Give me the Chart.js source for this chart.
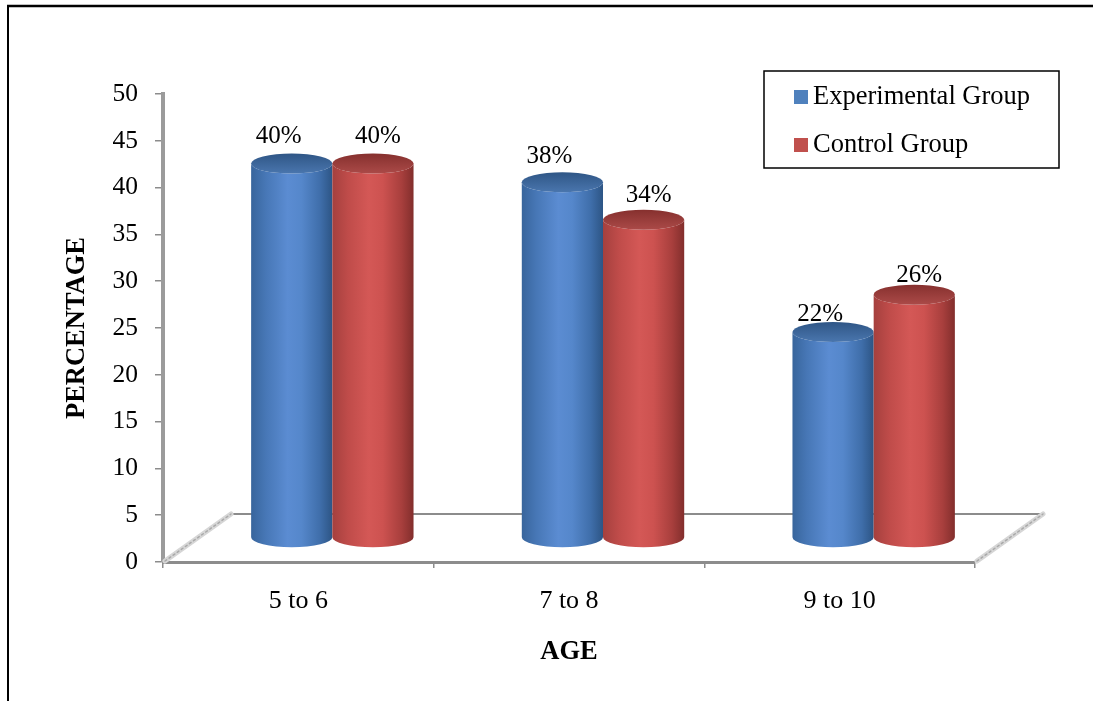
<!DOCTYPE html>
<html>
<head>
<meta charset="utf-8">
<title>Age distribution by group</title>
<script src="https://cdn.jsdelivr.net/npm/chart.js@4.4.1/dist/chart.umd.min.js"></script>
<style>
  html, body { margin: 0; padding: 0; background: #fff; overflow: hidden; }
  canvas { display: block; }
</style>
</head>
<body>
<canvas id="chart" width="1093" height="701"></canvas>
<script>
// Percentage of each group in every age band
const categories = ['5 to 6', '7 to 8', '9 to 10'];
const experimentalGroup = [40, 38, 22];
const controlGroup = [40, 34, 26];
const seriesNames = ['Experimental Group', 'Control Group'];
const yMax = 50;
const yStep = 5;

const SERIF = '"Liberation Serif", "Times New Roman", serif';
// Depth of the pseudo-3D floor (front edge -> back edge)
const DEPTH = { dx: 68, dy: -48 };
const CAP_RY = 10;

const palettes = [
  {
    body: [[0, '#38659c'], [0.18, '#4777b6'], [0.45, '#5b8cd2'], [0.62, '#5587cb'], [0.85, '#3f6eaa'], [1, '#2d5585']],
    top: ['#2f5686', '#4a76ae'],
    key: '#4f81bd'
  },
  {
    body: [[0, '#a5403e'], [0.2, '#c04c4a'], [0.45, '#d45856'], [0.62, '#cd5250'], [0.85, '#a83f3d'], [1, '#822e2c']],
    top: ['#86302e', '#ab4a48'],
    key: '#c0504d'
  }
];

// White page with the frame lines around the figure
const framePlugin = {
  id: 'frame',
  beforeDraw(chart) {
    const ctx = chart.ctx;
    ctx.save();
    ctx.fillStyle = '#fff';
    ctx.fillRect(0, 0, chart.width, chart.height);
    ctx.strokeStyle = '#000';
    ctx.lineWidth = 2.5;
    ctx.beginPath();
    ctx.moveTo(7, 6);
    ctx.lineTo(chart.width, 6);
    ctx.stroke();
    ctx.lineWidth = 2;
    ctx.beginPath();
    ctx.moveTo(8, 5);
    ctx.lineTo(8, chart.height);
    ctx.stroke();
    ctx.restore();
  }
};

// Floor of the 3D plot: back edge and the two receding side edges
const floorPlugin = {
  id: 'floor',
  beforeDatasetsDraw(chart) {
    const { left, right, bottom } = chart.chartArea;
    const ctx = chart.ctx;
    ctx.save();
    ctx.strokeStyle = '#8c8c8c';
    ctx.lineWidth = 2;
    ctx.beginPath();
    ctx.moveTo(left + DEPTH.dx, bottom + DEPTH.dy);
    ctx.lineTo(right + DEPTH.dx, bottom + DEPTH.dy);
    ctx.stroke();
    [left, right].forEach(x0 => {
      ctx.lineCap = 'round';
      ctx.strokeStyle = '#d6d6d6';
      ctx.lineWidth = 5;
      ctx.setLineDash([]);
      ctx.beginPath();
      ctx.moveTo(x0 + 2, bottom - 1);
      ctx.lineTo(x0 + DEPTH.dx, bottom + DEPTH.dy);
      ctx.stroke();
      ctx.strokeStyle = '#a9a9a9';
      ctx.lineWidth = 1.5;
      ctx.setLineDash([2, 3]);
      ctx.beginPath();
      ctx.moveTo(x0 + 2, bottom - 1);
      ctx.lineTo(x0 + DEPTH.dx, bottom + DEPTH.dy);
      ctx.stroke();
    });
    ctx.restore();
  }
};

// Draws each bar element as a shaded cylinder standing mid-depth on the floor
const cylinderPlugin = {
  id: 'cylinders',
  afterDatasetsDraw(chart) {
    const ctx = chart.ctx;
    const hx = DEPTH.dx / 2, hy = DEPTH.dy / 2, ry = CAP_RY;
    chart.data.datasets.forEach((ds, di) => {
      const meta = chart.getDatasetMeta(di);
      const pal = palettes[di];
      meta.data.forEach((bar) => {
        const { x, y, base, width } = bar.getProps(['x', 'y', 'base', 'width'], true);
        const cx = x + hx, rx = width / 2, top = y + hy, bot = base + hy;
        ctx.save();
        const g = ctx.createLinearGradient(cx - rx, 0, cx + rx, 0);
        pal.body.forEach(([o, c]) => g.addColorStop(o, c));
        ctx.beginPath();
        ctx.moveTo(cx - rx, top);
        ctx.lineTo(cx - rx, bot);
        ctx.ellipse(cx, bot, rx, ry, 0, Math.PI, 0, true);
        ctx.lineTo(cx + rx, top);
        ctx.ellipse(cx, top, rx, ry, 0, 0, Math.PI, false);
        ctx.closePath();
        ctx.fillStyle = g;
        ctx.fill();
        const tg = ctx.createLinearGradient(0, top - ry, 0, top + ry);
        tg.addColorStop(0, pal.top[0]);
        tg.addColorStop(1, pal.top[1]);
        ctx.beginPath();
        ctx.ellipse(cx, top, rx, ry, 0, 0, Math.PI * 2);
        ctx.fillStyle = tg;
        ctx.fill();
        ctx.restore();
      });
    });
  }
};

// Percentage labels above each cylinder; taller cylinders get a slightly larger gap
const valueLabelPlugin = {
  id: 'valueLabels',
  afterDatasetsDraw(chart) {
    const ctx = chart.ctx;
    const shift = [-13, 5];
    ctx.save();
    ctx.font = '25px ' + SERIF;
    ctx.fillStyle = '#000';
    ctx.textAlign = 'center';
    ctx.textBaseline = 'middle';
    chart.data.datasets.forEach((ds, di) => {
      chart.getDatasetMeta(di).data.forEach((bar, i) => {
        const { x, y, base } = bar.getProps(['x', 'y', 'base'], true);
        const gap = 5 + 0.06 * (base - y);
        ctx.fillText(ds.data[i] + '%', x + DEPTH.dx / 2 + shift[di], y + DEPTH.dy / 2 - gap);
      });
    });
    ctx.restore();
  }
};

// Boxed legend in the upper right corner
const boxLegendPlugin = {
  id: 'boxLegend',
  afterDraw(chart) {
    const ctx = chart.ctx;
    const { right, top } = chart.chartArea;
    const bx = right - 211, by = top - 23, bw = 295, bh = 97;
    ctx.save();
    ctx.strokeStyle = '#000';
    ctx.lineWidth = 1.5;
    ctx.strokeRect(bx, by, bw, bh);
    ctx.font = '26.5px ' + SERIF;
    ctx.textAlign = 'left';
    ctx.textBaseline = 'middle';
    chart.data.datasets.forEach((ds, di) => {
      const rowY = by + 26 + di * 48;
      ctx.fillStyle = palettes[di].key;
      ctx.fillRect(bx + 30, rowY - 7, 14, 14);
      ctx.fillStyle = '#000';
      ctx.fillText(ds.label, bx + 49, rowY);
    });
    ctx.restore();
  }
};

new Chart(document.getElementById('chart'), {
  type: 'bar',
  data: {
    labels: categories,
    datasets: [
      { label: seriesNames[0], data: experimentalGroup },
      { label: seriesNames[1], data: controlGroup }
    ].map(d => Object.assign(d, {
      backgroundColor: 'rgba(0,0,0,0)',
      borderWidth: 0,
      categoryPercentage: 0.6,
      barPercentage: 1.0
    }))
  },
  options: {
    responsive: false,
    animation: false,
    devicePixelRatio: 1,
    layout: { padding: { top: 94, right: 118, bottom: 0, left: 0 } },
    plugins: {
      legend: { display: false },
      tooltip: { enabled: false }
    },
    scales: {
      x: {
        ticks: { color: '#000', font: { family: SERIF, size: 26 }, padding: 18 },
        grid: { drawOnChartArea: false, drawTicks: true, tickLength: 6, color: '#8c8c8c', lineWidth: 1.5, offset: true },
        border: { display: true, color: '#8c8c8c', width: 3 },
        title: {
          display: true, text: 'AGE', color: '#000',
          font: { family: SERIF, size: 26.5, weight: 'bold' },
          padding: { top: 0, bottom: 33 }
        },
        afterFit(scale) { scale.height = 139; }
      },
      y: {
        min: 0,
        max: yMax,
        ticks: { stepSize: yStep, color: '#000', font: { family: SERIF, size: 25.5 }, padding: 17 },
        grid: { drawOnChartArea: false, drawTicks: true, tickLength: 8, color: '#8c8c8c', lineWidth: 1.5 },
        border: { display: true, color: '#9b9b9b', width: 4 },
        title: {
          display: true, text: 'PERCENTAGE', color: '#000',
          font: { family: SERIF, size: 26.5, weight: 'bold' },
          padding: { top: 61, bottom: 0 }
        },
        afterFit(scale) { scale.width = 163; }
      }
    }
  },
  plugins: [framePlugin, floorPlugin, cylinderPlugin, valueLabelPlugin, boxLegendPlugin]
});
</script>
</body>
</html>
